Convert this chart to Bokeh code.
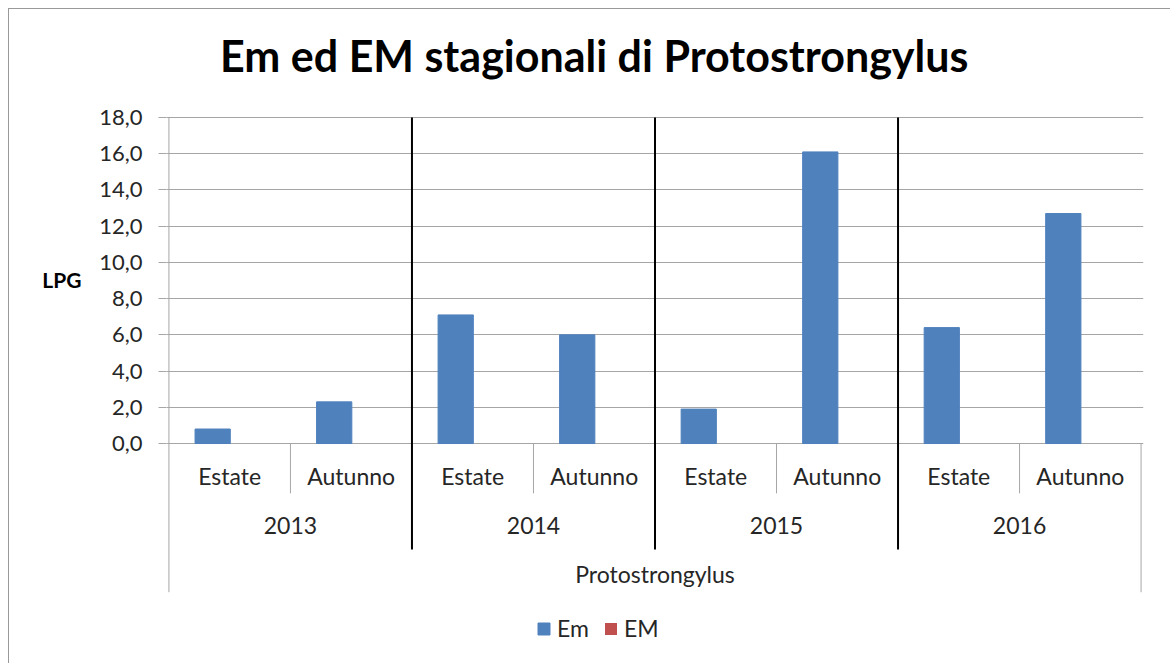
from bokeh.plotting import figure
from bokeh.models import (FactorRange, ColumnDataSource, FixedTicker, LinearAxis,
                          Legend, LegendItem, Range1d)
from bokeh.transform import dodge
from bokeh.core.properties import value
from bokeh.embed import file_html
from bokeh.resources import INLINE

# ---- data ----
title_text = "Em ed EM stagionali di Protostrongylus"
y_axis_label = "LPG"
group_label = "Protostrongylus"
years = ["2013", "2014", "2015", "2016"]
seasons = ["Estate", "Autunno"]
em_values = [0.8, 2.3, 7.1, 6.0, 1.9, 16.1, 6.4, 12.7]
EM_values = [0.0, 0.0, 0.0, 0.0, 0.0, 0.0, 0.0, 0.0]
series_names = ["Em", "EM"]
y_ticks = [0, 2, 4, 6, 8, 10, 12, 14, 16, 18]
y_tick_labels = ["0,0", "2,0", "4,0", "6,0", "8,0", "10,0", "12,0", "14,0", "16,0", "18,0"]

FONT = "Lato"
TXT = "#262626"
GRID = "#A6A6A6"
CAT_SIZE = "23px"

factors = [(y, s) for y in years for s in seasons]

x_range = FactorRange(*factors, range_padding=0.02, range_padding_units="absolute",
                      factor_padding=0, group_padding=0, subgroup_padding=0)

# the plotting frame spans the full canvas height; the value axis only shows 0..18
p = figure(x_range=x_range, y_range=Range1d(-11.98, 23.963),
           width=1162, height=655, output_backend="svg", toolbar_location=None,
           x_axis_location=None, min_border_left=157, min_border_right=28,
           min_border_top=0, min_border_bottom=4)
p.styles = {"margin-left": "8px", "margin-top": "8px",
            "border-left": "1px solid #999999", "border-top": "1px solid #999999"}
p.outline_line_color = None
p.background_fill_color = "white"
p.border_fill_color = "white"

# y axis
p.yaxis.ticker = FixedTicker(ticks=y_ticks)
p.yaxis.major_label_overrides = dict(zip(y_ticks, y_tick_labels))
p.yaxis.axis_line_color = None
p.yaxis.major_tick_line_color = GRID
p.yaxis.major_tick_out = 8
p.yaxis.major_tick_in = 0
p.yaxis.minor_tick_line_color = None
p.yaxis.major_label_standoff = 16
p.yaxis.major_label_text_font = FONT
p.yaxis.major_label_text_font_size = "22px"
p.yaxis.major_label_text_color = TXT

# horizontal "LPG" axis title, placed beside the value axis
lpg_pos = 9.05
lpg_axis = LinearAxis(ticker=FixedTicker(ticks=[lpg_pos]),
                      major_label_overrides={lpg_pos: y_axis_label},
                      axis_line_color=None, major_tick_line_color=None,
                      minor_tick_line_color=None, major_tick_out=0, major_tick_in=0,
                      major_label_standoff=15, major_label_text_font=FONT,
                      major_label_text_font_style="bold",
                      major_label_text_font_size="21px", major_label_text_color="black")
p.add_layout(lpg_axis, "left")

p.ygrid.ticker = FixedTicker(ticks=y_ticks)
p.ygrid.grid_line_color = GRID
p.ygrid.grid_line_width = 1
p.xgrid.visible = False

src = ColumnDataSource(dict(x=factors, em=em_values, EM=EM_values,
                            label=[f[1] for f in factors]))

r_em = p.vbar(x=dodge("x", -0.14, range=p.x_range), top="em", bottom=0, width=0.29,
              source=src, fill_color="#4F81BD", line_color="#4F81BD")
r_EM = p.vbar(x=dodge("x", 0.14, range=p.x_range), top="EM", bottom=0, width=0.29,
              source=src, fill_color="#C0504D", line_color=None)

# chart title
title_src = ColumnDataSource(dict(xf=[(years[1], seasons[1])], t=[title_text]))
p.text(x="xf", y=20.03, text="t", source=title_src, text_align="center",
       text_baseline="bottom", text_font=value(FONT), text_font_style="bold",
       text_font_size=value("43px"), text_color="black")

# category axis structure
p.segment(x0=dodge("xf", -0.5, range=p.x_range), x1=dodge("xf", -0.5, range=p.x_range),
          y0=18.0, y1=-8.21, source=ColumnDataSource(dict(xf=[factors[0]])),
          line_color=GRID, line_width=1)
p.segment(x0=dodge("xf", 0.5, range=p.x_range), x1=dodge("xf", 0.5, range=p.x_range),
          y0=0, y1=-8.21, source=ColumnDataSource(dict(xf=[factors[-1]])),
          line_color=GRID, line_width=1)
season_sep = ColumnDataSource(dict(xf=[(y, seasons[1]) for y in years]))
p.segment(x0=dodge("xf", -0.5, range=p.x_range), x1=dodge("xf", -0.5, range=p.x_range),
          y0=0, y1=-2.75, source=season_sep, line_color=GRID, line_width=1)
year_sep = ColumnDataSource(dict(xf=[(y, seasons[0]) for y in years[1:]]))
p.segment(x0=dodge("xf", -0.5, range=p.x_range), x1=dodge("xf", -0.5, range=p.x_range),
          y0=18.0, y1=-5.85, source=year_sep, line_color="black", line_width=2)

# category labels
p.text(x="x", y=-1.82, text="label", source=src, text_align="center",
       text_baseline="alphabetic", text_font=value(FONT), text_font_size=value(CAT_SIZE),
       text_color=TXT)
year_src = ColumnDataSource(dict(xf=[(y, seasons[1]) for y in years], t=years))
p.text(x=dodge("xf", -0.5, range=p.x_range), y=-4.52, text="t", source=year_src,
       text_align="center", text_baseline="alphabetic", text_font=value(FONT),
       text_font_size=value(CAT_SIZE), text_color=TXT)
grp_src = ColumnDataSource(dict(xf=[(years[2], seasons[0])], t=[group_label]))
p.text(x=dodge("xf", -0.5, range=p.x_range), y=-7.23, text="t", source=grp_src,
       text_align="center", text_baseline="alphabetic", text_font=value(FONT),
       text_font_size=value(CAT_SIZE), text_color=TXT)

legend = Legend(items=[LegendItem(label=series_names[0], renderers=[r_em]),
                       LegendItem(label=series_names[1], renderers=[r_EM])],
                location=(370, 18), orientation="horizontal",
                border_line_color=None, background_fill_alpha=0, padding=0, margin=0,
                spacing=14, label_standoff=6, glyph_width=15, glyph_height=15,
                label_height=15, label_text_font=FONT, label_text_font_size=CAT_SIZE,
                label_text_color=TXT)
p.add_layout(legend)

open("out.html", "w").write(file_html(p, INLINE))
